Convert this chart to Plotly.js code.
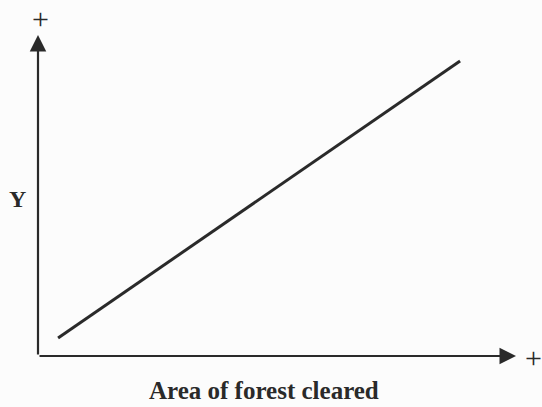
<!DOCTYPE html>
<html>
<head>
<meta charset="utf-8">
<script src="https://cdn.plot.ly/plotly-3.0.1.min.js"></script>
<style>html,body{margin:0;padding:0;background:#fcfcfc;}#chart{width:542px;height:407px;}</style>
</head>
<body>
<div id="chart"></div>
<script>
// Data (schematic axes 0..10)
const lineX = [0.42, 8.83];
const lineY = [0.56, 9.19];
const xLabel = 'Area of forest cleared';
const yLabel = 'Y';
const plusSign = '+';

const ink = '#2a2a2a';
const serif = 'Liberation Serif, Times New Roman, serif';

const traces = [{
  x: lineX, y: lineY, type: 'scatter', mode: 'lines',
  line: {color: ink, width: 3}, hoverinfo: 'skip', showlegend: false
}];

const hidden = {range: [0, 10], showgrid: false, zeroline: false, showline: false,
  showticklabels: false, ticks: '', fixedrange: true};

const layout = {
  width: 542, height: 407,
  margin: {l: 38, r: 26, t: 35, b: 51, pad: 0},
  paper_bgcolor: '#fcfcfc', plot_bgcolor: '#fcfcfc',
  xaxis: Object.assign({}, hidden),
  yaxis: Object.assign({}, hidden),
  showlegend: false,
  annotations: [
    // x axis arrow
    {x: 10, y: 0, ax: 0, ay: 0, xref: 'x', yref: 'y', axref: 'x', ayref: 'y',
     showarrow: true, arrowhead: 2, arrowsize: 1.5, arrowwidth: 2.2, arrowcolor: ink, text: '', standoff: 0},
    // y axis arrow
    {x: 0, y: 10, ax: 0, ay: 0, xref: 'x', yref: 'y', axref: 'x', ayref: 'y',
     showarrow: true, arrowhead: 2, arrowsize: 1.5, arrowwidth: 2.2, arrowcolor: ink, text: '', standoff: 0},
    {x: 0.472, y: -0.106, xref: 'paper', yref: 'paper', showarrow: false,
     text: '<b>' + xLabel + '</b>', font: {family: serif, size: 25, color: ink},
     xanchor: 'center', yanchor: 'middle'},
    {x: -0.042, y: 0.489, xref: 'paper', yref: 'paper', showarrow: false,
     text: '<b>' + yLabel + '</b>', font: {family: serif, size: 24, color: ink},
     xanchor: 'center', yanchor: 'middle'},
    {x: 0.005, y: 1.05, xref: 'paper', yref: 'paper', showarrow: false,
     text: plusSign, font: {family: serif, size: 30, color: ink},
     xanchor: 'center', yanchor: 'middle'},
    {x: 1.037, y: -0.006, xref: 'paper', yref: 'paper', showarrow: false,
     text: plusSign, font: {family: serif, size: 30, color: ink},
     xanchor: 'center', yanchor: 'middle'}
  ]
};

Plotly.newPlot('chart', traces, layout, {displayModeBar: false, staticPlot: true});
</script>
</body>
</html>
